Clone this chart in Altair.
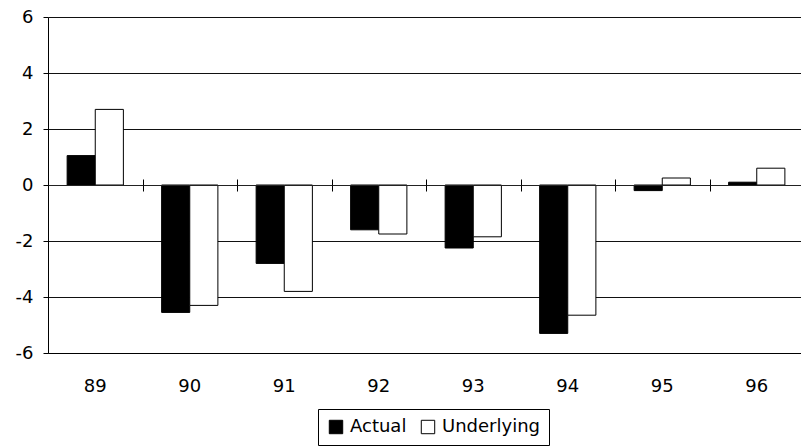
import altair as alt
import pandas as pd

# Year labels and the two series (percent)
years = ["89", "90", "91", "92", "93", "94", "95", "96"]
actual = [1.05, -4.55, -2.8, -1.6, -2.25, -5.3, -0.2, 0.1]
underlying = [2.7, -4.3, -3.8, -1.75, -1.85, -4.65, 0.25, 0.6]
series_names = ["Actual", "Underlying"]
y_ticks = [-6, -4, -2, 0, 2, 4, 6]

rows = []
for i, yr in enumerate(years):
    rows.append({"year": yr, "series": series_names[0], "value": actual[i]})
    rows.append({"year": yr, "series": series_names[1], "value": underlying[i]})
df = pd.DataFrame(rows)

W, H = 753, 336
FONT = "DejaVu Sans"
FS = 18

x_scale = alt.Scale(domain=years, range=[0, 756], paddingInner=0, paddingOuter=0)

bars = alt.Chart(df).mark_bar(stroke="black", strokeWidth=1).encode(
    x=alt.X(
        "year:N",
        scale=x_scale,
        sort=years,
        axis=alt.Axis(
            title=None, ticks=False, domain=True, domainColor="black",
            domainWidth=1, labelFontSize=FS, labelFont=FONT, labelColor="black",
            labelPadding=24, labelAngle=0, grid=False,
        ),
    ),
    xOffset=alt.XOffset(
        "series:N",
        scale=alt.Scale(domain=series_names, paddingInner=0, paddingOuter=0.68),
    ),
    y=alt.Y(
        "value:Q",
        scale=alt.Scale(domain=[-6, 6], nice=False, zero=False),
        axis=alt.Axis(
            values=y_ticks, title=None, grid=True, gridColor="#111",
            gridWidth=1, tickSize=5, tickColor="black", domainColor="black",
            labelFontSize=FS, labelFont=FONT, labelColor="black",
            labelPadding=10, labelExpr="'' + datum.value",
        ),
    ),
    y2=alt.datum(0),
    fill=alt.Fill(
        "series:N",
        scale=alt.Scale(domain=series_names, range=["black", "white"]),
        legend=alt.Legend(
            title=None, orient="none", legendX=270, legendY=392,
            direction="horizontal", symbolType="square", symbolSize=180,
            symbolStrokeColor="black", symbolStrokeWidth=1,
            labelFontSize=FS, labelFont=FONT, labelColor="black",
            strokeColor="black", padding=9, labelOffset=5, columnPadding=12,
            cornerRadius=0, fillColor="white",
        ),
    ),
)

# Category axis drawn along the zero line, ticks crossing it between years
zero_down = alt.Chart(df).mark_point(opacity=0).encode(
    x=alt.X(
        "year:N",
        scale=x_scale,
        sort=years,
        axis=alt.Axis(
            orient="bottom", offset=-H / 2, labels=False, ticks=True,
            tickSize=6, tickBand="extent", tickColor="black", domain=True,
            domainColor="#222", title=None, grid=False, zindex=1,
        ),
    )
)

zero_up = alt.Chart(df).mark_point(opacity=0).encode(
    x=alt.X(
        "year:N",
        scale=x_scale,
        sort=years,
        axis=alt.Axis(
            orient="top", offset=-H / 2, labels=False, ticks=True,
            tickSize=6, tickBand="extent", tickColor="black", domain=False,
            title=None, grid=False, zindex=1,
        ),
    )
)

chart = (
    alt.layer(bars, zero_down, zero_up)
    .resolve_axis(x="independent")
    .properties(
        width=W,
        height=H,
        autosize=alt.AutoSizeParams(type="none"),
        padding={"left": 48, "top": 17, "right": 0, "bottom": 93},
        background="white",
    )
    .configure_view(stroke=None)
)

chart.save("out.html", embed_options={"renderer": "svg", "actions": False})
